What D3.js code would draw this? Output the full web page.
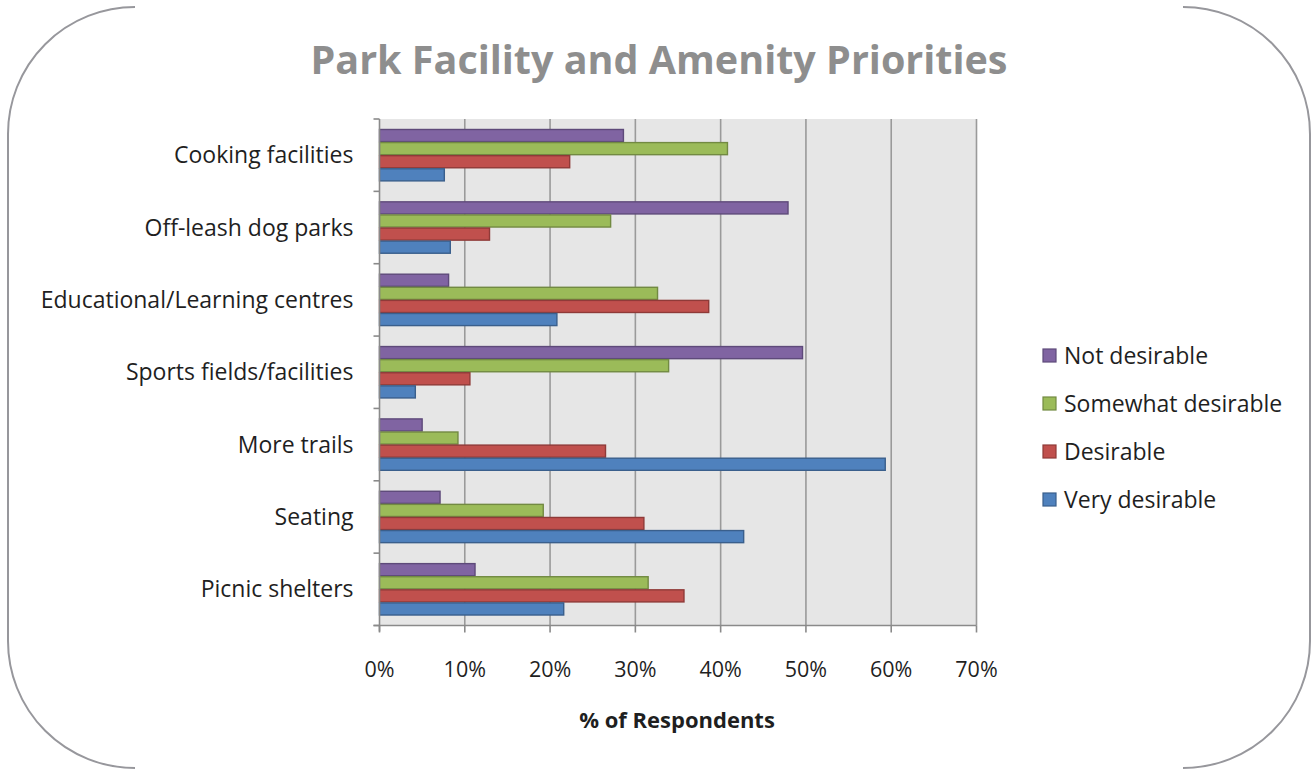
<!DOCTYPE html>
<html>
<head>
<meta charset="utf-8">
<script src="https://cdn.jsdelivr.net/npm/d3@7"></script>
<style>
  html, body { margin: 0; padding: 0; background: #ffffff; }
  svg { display: block; }
  text { font-family: "Open Sans", "Lato", sans-serif; }
</style>
</head>
<body>
<svg id="chart" width="1314" height="770"></svg>
<script>
// Survey answers, in percent of respondents
const categories = [
  "Cooking facilities",
  "Off-leash dog parks",
  "Educational/Learning centres",
  "Sports fields/facilities",
  "More trails",
  "Seating",
  "Picnic shelters"
];
const seriesNames = ["Not desirable", "Somewhat desirable", "Desirable", "Very desirable"];
const notDesirable      = [28.6, 47.9,  8.1, 49.6,  5.0,  7.1, 11.2];
const somewhatDesirable = [40.8, 27.1, 32.6, 33.9,  9.2, 19.2, 31.5];
const desirable         = [22.3, 12.9, 38.6, 10.6, 26.5, 31.0, 35.7];
const veryDesirable     = [ 7.6,  8.3, 20.8,  4.2, 59.3, 42.7, 21.6];
const xTicks = [0, 10, 20, 30, 40, 50, 60, 70];

const seriesValues = [notDesirable, somewhatDesirable, desirable, veryDesirable];
const fills   = ["#8064A2", "#9BBB59", "#C0504D", "#4F81BD"];
const strokes = ["#5E4a7a", "#728a42", "#8f3a38", "#3a5f8c"];

const svg = d3.select("#chart");

// Frame: rounded corners joined by the left and right sides only
const frame = svg.append("g").attr("fill", "none").attr("stroke", "#97979c").attr("stroke-width", 2);
const r = 127;
frame.append("path").attr("d",
  `M135,7 A${r},${r} 0 0 0 8,134 L8,641 A${r},${r} 0 0 0 135,768`);
frame.append("path").attr("d",
  `M1183,7 A${r},${r} 0 0 1 1310,134 L1310,641 A${r},${r} 0 0 1 1183,768`);

// Title
svg.append("text")
  .attr("x", 659).attr("y", 74)
  .attr("text-anchor", "middle")
  .attr("font-size", 39.5).attr("font-weight", "bold")
  .attr("fill", "#8e8e8e")
  .text("Park Facility and Amenity Priorities");

const plot = { left: 379.5, right: 976.5, top: 119, bottom: 625.5 };

const x = d3.scaleLinear().domain([0, 70]).range([plot.left, plot.right]);
const y = d3.scaleBand().domain(categories).range([plot.top, plot.bottom]).paddingInner(0.276).paddingOuter(0.138);
const ySub = d3.scaleBand().domain(seriesNames).range([0, y.bandwidth()]);

// Plot background
svg.append("rect")
  .attr("x", plot.left).attr("y", plot.top)
  .attr("width", plot.right - plot.left).attr("height", plot.bottom - plot.top)
  .attr("fill", "#e6e6e6");

// Vertical gridlines
svg.append("g").selectAll("line")
  .data(xTicks.filter(t => t > 0))
  .join("line")
  .attr("x1", d => x(d)).attr("x2", d => x(d))
  .attr("y1", plot.top).attr("y2", plot.bottom)
  .attr("stroke", "#9a9a9a").attr("stroke-width", 1.6);

// Bars
const groups = svg.append("g").selectAll("g")
  .data(categories)
  .join("g")
  .attr("transform", d => `translate(0,${y(d)})`);

groups.selectAll("rect")
  .data((d, i) => seriesNames.map((s, j) => ({ s, j, v: seriesValues[j][i] })))
  .join("rect")
  .attr("x", x(0))
  .attr("y", d => ySub(d.s) + 0.5)
  .attr("width", d => x(d.v) - x(0))
  .attr("height", ySub.bandwidth() - 1)
  .attr("fill", d => fills[d.j])
  .attr("stroke", d => strokes[d.j])
  .attr("stroke-width", 1.4);

// Category axis
const yAxisG = svg.append("g").attr("transform", `translate(${plot.left},0)`);
yAxisG.append("line")
  .attr("x1", 0).attr("x2", 0).attr("y1", plot.top).attr("y2", plot.bottom + 6)
  .attr("stroke", "#8a8a8a").attr("stroke-width", 1.6);
const boundaries = d3.range(categories.length + 1).map(i => plot.top + i * (plot.bottom - plot.top) / categories.length);
yAxisG.selectAll("line.tick").data(boundaries).join("line")
  .attr("class", "tick")
  .attr("x1", -6).attr("x2", 0).attr("y1", d => d).attr("y2", d => d)
  .attr("stroke", "#8a8a8a").attr("stroke-width", 1.6);
yAxisG.selectAll("text").data(categories).join("text")
  .attr("x", -26)
  .attr("y", d => y(d) + y.bandwidth() / 2)
  .attr("dy", "0.35em")
  .attr("text-anchor", "end")
  .attr("font-size", 23)
  .attr("fill", "#1f1f1f")
  .text(d => d);

// Value axis
const xAxisG = svg.append("g").attr("transform", `translate(0,${plot.bottom})`);
xAxisG.append("line")
  .attr("x1", plot.left - 6).attr("x2", plot.right).attr("y1", 0).attr("y2", 0)
  .attr("stroke", "#8a8a8a").attr("stroke-width", 1.6);
xAxisG.selectAll("line.tick").data(xTicks).join("line")
  .attr("class", "tick")
  .attr("x1", d => x(d)).attr("x2", d => x(d)).attr("y1", 0).attr("y2", 7)
  .attr("stroke", "#8a8a8a").attr("stroke-width", 1.6);
xAxisG.selectAll("text").data(xTicks).join("text")
  .attr("x", d => x(d))
  .attr("y", 51)
  .attr("text-anchor", "middle")
  .attr("font-size", 21.5)
  .attr("fill", "#1f1f1f")
  .text(d => d + "%");

svg.append("text")
  .attr("x", 677).attr("y", 728)
  .attr("text-anchor", "middle")
  .attr("font-size", 22).attr("font-weight", "bold")
  .attr("fill", "#1f1f1f")
  .text("% of Respondents");

// Legend
const legend = svg.append("g").attr("transform", "translate(1043,356)");
const items = legend.selectAll("g").data(seriesNames).join("g")
  .attr("transform", (d, i) => `translate(0,${i * 48})`);
items.append("rect")
  .attr("x", 0).attr("y", -7).attr("width", 13).attr("height", 13)
  .attr("fill", (d, i) => fills[i]).attr("stroke", (d, i) => strokes[i]).attr("stroke-width", 1.2);
items.append("text")
  .attr("x", 21).attr("y", 0).attr("dy", "0.35em")
  .attr("font-size", 23).attr("fill", "#1f1f1f")
  .text(d => d);
</script>
</body>
</html>
